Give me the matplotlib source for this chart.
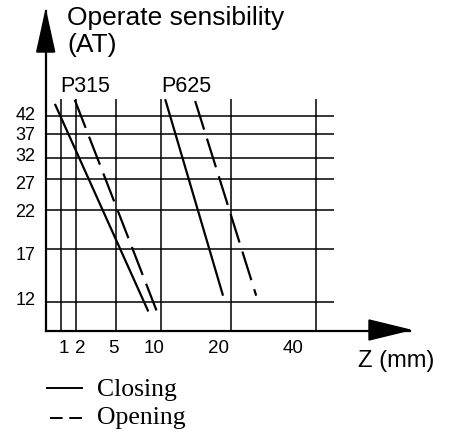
import numpy as np
import matplotlib
matplotlib.use('Agg')
import matplotlib.pyplot as plt
from matplotlib.lines import Line2D
from matplotlib.patches import Polygon
from matplotlib.transforms import ScaledTranslation

plt.rcParams['font.family'] = ['Liberation Sans', 'DejaVu Sans']
plt.rcParams['lines.scale_dashes'] = False

W, H = 453, 434

# grid / tick values
z_ticks = [1, 2, 5, 10, 20, 40]
z_labels = ['1', '2', '5', '10', '20', '40']
at_ticks = [12, 17, 22, 27, 32, 37, 42]
at_labels = ['12', '17', '22', '27', '32', '37', '42']

# each curve is a straight line on the printed chart: start and end point
p315_closing_z = [0.6, 8.6]
p315_closing_at = [45.3, 11.1]
p315_opening_z = [1.9, 9.5]
p315_opening_at = [46.4, 11.2]
p625_closing_z = [10.6, 18.9]
p625_closing_at = [46.6, 12.6]
p625_opening_z = [14.9, 26.0]
p625_opening_at = [46.1, 12.6]

# the printed scales are uneven -> piecewise linear scale through the grid
z_anchor = [0, 1, 2, 5, 10, 20, 40]
z_anchor_pos = [45.7, 61, 76.3, 115.7, 161, 230.7, 315.7]
at_anchor = [12, 17, 22, 27, 32, 37, 42]
at_anchor_pos = [132, 184.7, 224, 255, 276.3, 299.7, 318]


def pw(v, xp, fp):
    v = np.asarray(v, dtype=float)
    out = np.interp(v, xp, fp)
    lo = fp[0] + (v - xp[0]) * (fp[1] - fp[0]) / (xp[1] - xp[0])
    hi = fp[-1] + (v - xp[-1]) * (fp[-1] - fp[-2]) / (xp[-1] - xp[-2])
    out = np.where(v < xp[0], lo, out)
    out = np.where(v > xp[-1], hi, out)
    return out


def fx(v):
    return pw(v, z_anchor, z_anchor_pos)


def fx_inv(p):
    return pw(p, z_anchor_pos, z_anchor)


def fy(v):
    return pw(v, at_anchor, at_anchor_pos)


def fy_inv(p):
    return pw(p, at_anchor_pos, at_anchor)


def fig_xy(x, y):
    # pixel position (from top-left) -> figure fraction
    return x / W, 1 - y / H


fig = plt.figure(figsize=(W / 100, H / 100), dpi=100)
ax = fig.add_axes([45.7 / W, 103 / H, (410 - 45.7) / W, (423 - 103) / H])
ax.set_xscale('function', functions=(fx, fx_inv))
ax.set_yscale('function', functions=(fy, fy_inv))
ax.set_xlim(0, float(fx_inv(410)))
ax.set_ylim(float(fy_inv(103)), float(fy_inv(423)))

for s in ['top', 'right']:
    ax.spines[s].set_visible(False)
for s in ['left', 'bottom']:
    ax.spines[s].set_linewidth(1.6)

# grid
y0 = ax.get_ylim()[0]
ax.vlines(z_ticks, y0, float(fy_inv(335)), color='black', lw=1.1)
ax.hlines(at_ticks, 0, float(fx_inv(333.7)), color='black', lw=1.1)

lw = 1.6
dash = (21.6, 6.8)
ax.plot(p315_closing_z, p315_closing_at, color='black', lw=lw, solid_capstyle='butt')
ax.plot(p315_opening_z, p315_opening_at, color='black', lw=lw, dashes=dash, dash_capstyle='butt')
ax.plot(p625_closing_z, p625_closing_at, color='black', lw=lw, solid_capstyle='butt')
ax.plot(p625_opening_z, p625_opening_at, color='black', lw=lw, dashes=dash, dash_capstyle='butt')

# ticks: the printed labels sit a bit off their grid lines
ax.set_xticks(z_ticks, z_labels, fontsize=13.5)
ax.set_yticks(at_ticks, at_labels, fontsize=13)
ax.minorticks_off()
ax.tick_params(axis='x', length=0, pad=6.5)
ax.tick_params(axis='y', length=0, pad=7.5)
x_shift = [2.5, 3.8, -2, -7, -12.5, -23]
y_shift = [-3.3, 3.7, 0.3, 3.5, -3.2, -0.5, -3]
for lab, d in zip(ax.get_xticklabels(), x_shift):
    lab.set_transform(lab.get_transform() + ScaledTranslation(d / 100, 0, fig.dpi_scale_trans))
for lab, d in zip(ax.get_yticklabels(), y_shift):
    lab.set_transform(lab.get_transform() + ScaledTranslation(0, -d / 100, fig.dpi_scale_trans))

# arrow heads
xa = Polygon([fig_xy(410, 330), fig_xy(369, 320), fig_xy(369, 340)], closed=True,
             color='black', transform=fig.transFigure, clip_on=False)
ya = Polygon([fig_xy(45.7, 11), fig_xy(36.7, 52), fig_xy(54.7, 52)], closed=True,
             color='black', transform=fig.transFigure, clip_on=False)
fig.patches.extend([xa, ya])

# texts
fig.text(*fig_xy(67, 25), 'Operate sensibility', fontsize=19, va='baseline')
fig.text(*fig_xy(67, 52), '(AT)', fontsize=19, va='baseline')
fig.text(*fig_xy(60, 92), 'P315', fontsize=15.5, va='baseline')
fig.text(*fig_xy(161, 92), 'P625', fontsize=15.5, va='baseline')
fig.text(*fig_xy(358, 367), 'Z (mm)', fontsize=17, va='baseline')

# legend, drawn by hand
fig.lines.append(Line2D([47.3 / W, 81.7 / W], [1 - 388.3 / H] * 2, color='black', lw=1.4,
                        transform=fig.transFigure))
fig.lines.append(Line2D([50 / W, 81.7 / W], [1 - 418 / H] * 2, color='black', lw=1.4,
                        dashes=(9.1, 4.8), transform=fig.transFigure))
fig.text(*fig_xy(97, 396), 'Closing', fontsize=18.5, family=['Liberation Serif', 'DejaVu Serif'],
         va='baseline')
fig.text(*fig_xy(97, 424), 'Opening', fontsize=18.5, family=['Liberation Serif', 'DejaVu Serif'],
         va='baseline')

fig.savefig('out.png', dpi=100)
